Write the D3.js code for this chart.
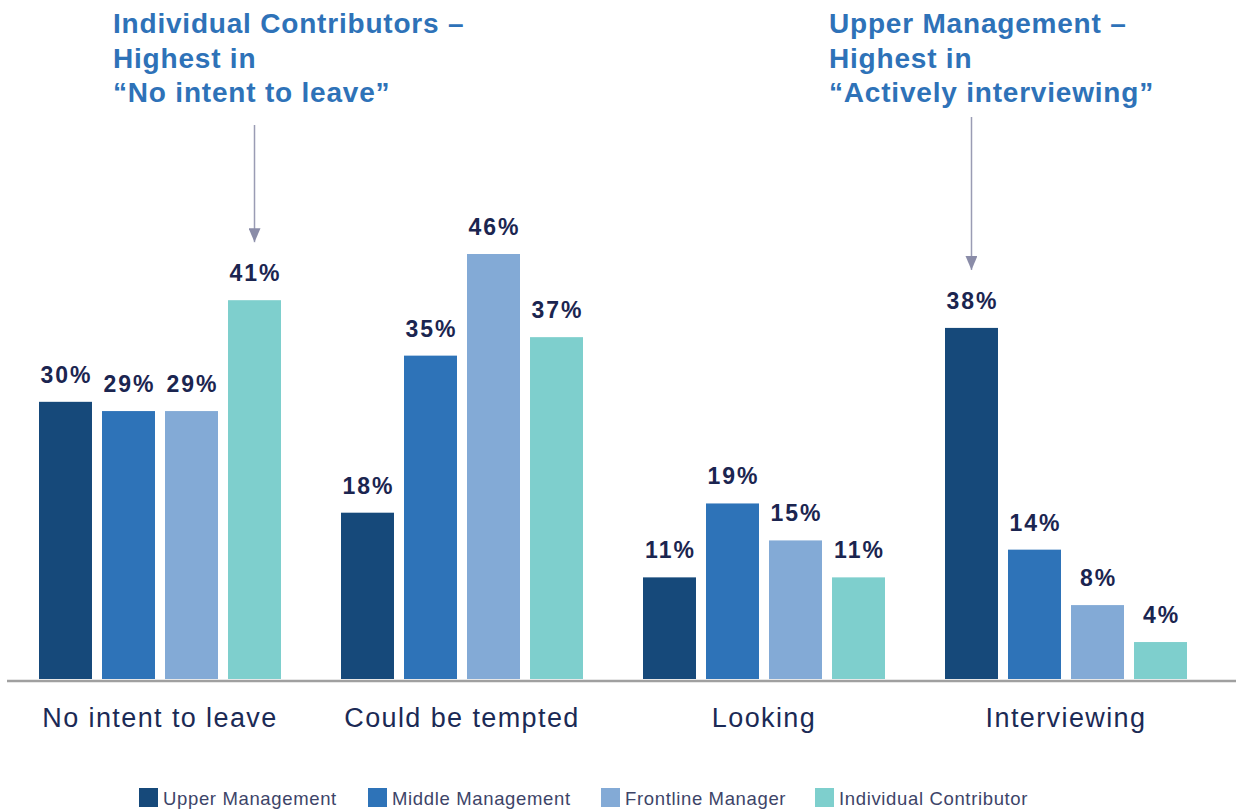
<!DOCTYPE html>
<html><head><meta charset="utf-8">
<script src="https://cdn.jsdelivr.net/npm/d3@7"></script>
<style>
html,body{margin:0;padding:0;background:#fff;}
svg{display:block;font-family:"Liberation Sans",Arial,Helvetica,sans-serif;}
</style></head>
<body>
<svg id="chart" width="1241" height="811"></svg>
<script>
const categories = ["No intent to leave", "Could be tempted", "Looking", "Interviewing"];
const seriesNames = ["Upper Management", "Middle Management", "Frontline Manager", "Individual Contributor"];
const upperManagement = [30, 18, 11, 38];
const middleManagement = [29, 35, 19, 14];
const frontlineManager = [29, 46, 15, 8];
const individualContributor = [41, 37, 11, 4];
const seriesColors = ["#16497a", "#2e73b8", "#83aad6", "#7ecfcd"];
const annotations = [
  {lines: ["Individual Contributors –", "Highest in", "“No intent to leave”"], category: "No intent to leave", series: "Individual Contributor"},
  {lines: ["Upper Management –", "Highest in", "“Actively interviewing”"], category: "Interviewing", series: "Upper Management"}
];

const seriesValues = [upperManagement, middleManagement, frontlineManager, individualContributor];
const data = categories.map((c, i) => ({category: c, values: seriesNames.map((s, j) => ({series: s, value: seriesValues[j][i]}))}));

const svg = d3.select("#chart");
const baseY = 679;

const x0 = d3.scaleBand().domain(categories).range([9, 1217]).paddingInner(0).paddingOuter(0);
const x1 = d3.scaleBand().domain(seriesNames).range([30, 272]).paddingInner(0.159).paddingOuter(0);
const y = d3.scaleLinear().domain([0, 46]).range([baseY, 254]);
const color = d3.scaleOrdinal().domain(seriesNames).range(seriesColors);

const groups = svg.append("g").selectAll("g").data(data).join("g")
  .attr("transform", d => `translate(${x0(d.category)},0)`);

groups.selectAll("rect").data(d => d.values).join("rect")
  .attr("x", d => x1(d.series))
  .attr("y", d => y(d.value))
  .attr("width", x1.bandwidth())
  .attr("height", d => baseY - y(d.value))
  .attr("fill", d => color(d.series));

groups.selectAll("text.val").data(d => d.values).join("text")
  .attr("class", "val")
  .attr("x", d => x1(d.series) + x1.bandwidth() / 2 + 1)
  .attr("y", d => y(d.value) - 19)
  .attr("text-anchor", "middle")
  .attr("font-size", 23)
  .attr("font-weight", "bold")
  .attr("letter-spacing", 2)
  .attr("fill", "#1b2550")
  .text(d => d.value + "%");

// axis
const xAxis = d3.axisBottom(x0).tickSize(0).tickPadding(30);
const axisG = svg.append("g").attr("transform", `translate(0,${baseY + 2})`).call(xAxis);
axisG.select(".domain").attr("d", "M7,0H1236").attr("stroke", "#a0a0a0").attr("stroke-width", 2.5);
axisG.selectAll(".tick text")
  .attr("font-size", 27)
  .attr("font-family", "\"Liberation Sans\",Arial,sans-serif")
  .attr("letter-spacing", 1.4)
  .attr("fill", "#1b2a55")
  .attr("dy", 0)
  .attr("y", 46);

// legend
const legendX = [139, 368, 601, 815];
const legend = svg.append("g").selectAll("g").data(seriesNames).join("g")
  .attr("transform", (d, i) => `translate(${legendX[i]},788)`);
legend.append("rect").attr("width", 19).attr("height", 19).attr("fill", d => color(d));
legend.append("text").attr("x", 24).attr("y", 17)
  .attr("font-size", 18.5).attr("letter-spacing", 0.65).attr("fill", "#3d4468").text(d => d);

// annotations
const defs = svg.append("defs");
defs.append("marker").attr("id", "arrow").attr("viewBox", "0 0 12 14")
  .attr("refX", 6).attr("refY", 14).attr("markerWidth", 12).attr("markerHeight", 14)
  .attr("markerUnits", "userSpaceOnUse").attr("orient", "0")
  .append("path").attr("d", "M0,0L12,0L6,14Z").attr("fill", "#8a8ca8");

const annX = [113, 829];
const arrowSpec = [{y1: 125}, {y1: 117}];
annotations.forEach((a, i) => {
  const t = svg.append("text").attr("x", annX[i]).attr("font-size", 28).attr("font-weight", "bold")
    .attr("letter-spacing", 0.8).attr("fill", "#2e72b8");
  a.lines.forEach((l, k) => t.append("tspan").attr("x", annX[i]).attr("y", 33 + k * 34.5).text(l));
  const cx = x0(a.category) + x1(a.series) + x1.bandwidth() / 2;
  const val = seriesValues[seriesNames.indexOf(a.series)][categories.indexOf(a.category)];
  svg.append("line").attr("x1", cx).attr("x2", cx)
    .attr("y1", arrowSpec[i].y1).attr("y2", y(val) - 58)
    .attr("stroke", "#9a9cb4").attr("stroke-width", 1.5)
    .attr("marker-end", "url(#arrow)");
});
</script>
</body></html>
